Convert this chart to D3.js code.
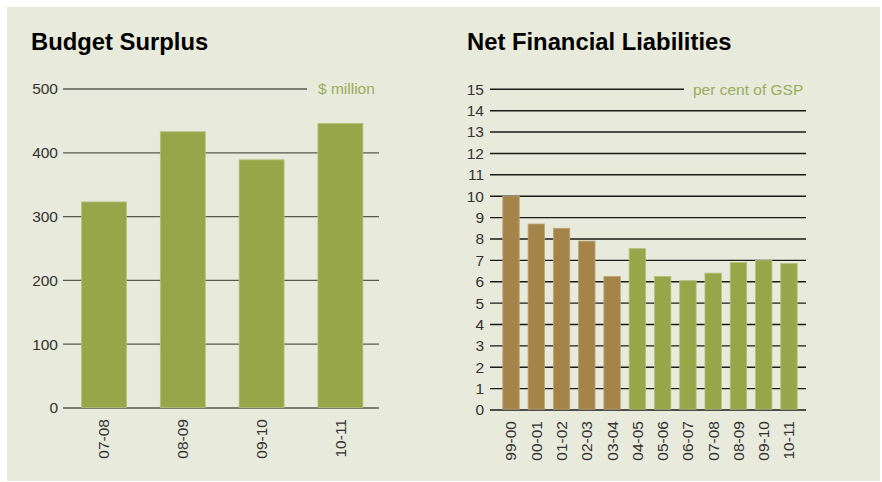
<!DOCTYPE html>
<html>
<head>
<meta charset="utf-8">
<script src="https://cdn.jsdelivr.net/npm/d3@7"></script>
<style>
  body { margin: 0; background: #fff; }
  svg { display: block; font-family: "Liberation Sans", Arial, sans-serif; }
</style>
</head>
<body>
<svg id="chart" width="882" height="482"></svg>
<script>
// ===== Data =====
const surplusYears = ["07-08", "08-09", "09-10", "10-11"];
const surplusValues = [323, 433, 389, 446];
const surplusTicks = [0, 100, 200, 300, 400, 500];

const nflYears = ["99-00", "00-01", "01-02", "02-03", "03-04", "04-05",
  "05-06", "06-07", "07-08", "08-09", "09-10", "10-11"];
const nflValues = [10.0, 8.7, 8.5, 7.9, 6.25, 7.55, 6.25, 6.05, 6.4, 6.9, 7.0, 6.85];
const nflTicks = d3.range(0, 16);
const nflHistoric = 5; // first five bars drawn in brown

const green = "#98a64a";
const brown = "#a5844a";
const unitColor = "#9aad5c";
const labelSize = "15.5px";
const titleSize = "23.8px";

const svg = d3.select("#chart");

// panel background
svg.append("rect")
  .attr("x", 7).attr("y", 7)
  .attr("width", 873).attr("height", 474)
  .attr("fill", "#e8eadb");

// ===== Budget Surplus =====
function drawSurplus() {
  const g = svg.append("g");
  const x0 = 63, x1 = 379;

  const y = d3.scaleLinear().domain([0, 500]).range([408, 89]);
  const x = d3.scaleBand()
    .domain(surplusYears)
    .range([64.6, 379.8])
    .paddingInner(0.43)
    .paddingOuter(0.215);

  g.append("text")
    .attr("x", 31).attr("y", 50)
    .text("Budget Surplus")
    .style("font-size", titleSize)
    .style("font-weight", "bold")
    .attr("fill", "#000");

  // grid
  g.selectAll("line.grid")
    .data(surplusTicks)
    .enter()
    .append("line")
    .attr("x1", x0)
    .attr("x2", d => d === 500 ? 307 : x1)
    .attr("y1", d => y(d))
    .attr("y2", d => y(d))
    .attr("stroke", "#585a50")
    .attr("stroke-width", 1.3);

  g.selectAll("text.ytick")
    .data(surplusTicks)
    .enter()
    .append("text")
    .attr("x", 58)
    .attr("y", d => y(d))
    .attr("dy", "0.35em")
    .attr("text-anchor", "end")
    .attr("fill", "#333")
    .style("font-size", labelSize)
    .text(d => d);

  g.append("text")
    .attr("x", 318).attr("y", y(500))
    .attr("dy", "0.35em")
    .attr("fill", unitColor)
    .style("font-size", labelSize)
    .text("$ million");

  g.selectAll("rect.bar")
    .data(surplusValues)
    .enter()
    .append("rect")
    .attr("x", (d, i) => x(surplusYears[i]))
    .attr("width", x.bandwidth())
    .attr("y", d => y(d))
    .attr("height", d => y(0) - y(d) - 0.6)
    .attr("fill", green)
    .attr("stroke", "#b4c07a")
    .attr("stroke-width", 0.8);

  g.selectAll("text.xtick")
    .data(surplusYears)
    .enter()
    .append("text")
    .attr("transform", d => `translate(${x(d) + x.bandwidth() / 2},419) rotate(-90)`)
    .attr("dy", "0.35em")
    .attr("text-anchor", "end")
    .attr("fill", "#333")
    .style("font-size", labelSize)
    .text(d => d);
}

// ===== Net Financial Liabilities =====
function drawNFL() {
  const g = svg.append("g");
  const x0 = 490, x1 = 806;

  const y = d3.scaleLinear().domain([0, 15]).range([410, 89.3]);
  const x = d3.scaleBand()
    .domain(nflYears)
    .range([498.4, 801.6])
    .paddingInner(0.35)
    .paddingOuter(0.175);

  g.append("text")
    .attr("x", 467).attr("y", 50)
    .text("Net Financial Liabilities")
    .style("font-size", titleSize)
    .style("font-weight", "bold")
    .attr("fill", "#000");

  g.selectAll("line.grid")
    .data(nflTicks)
    .enter()
    .append("line")
    .attr("x1", x0)
    .attr("x2", d => d === 15 ? 684 : x1)
    .attr("y1", d => y(d))
    .attr("y2", d => y(d))
    .attr("stroke", "#1a1a16")
    .attr("stroke-width", 1.4);

  g.selectAll("text.ytick")
    .data(nflTicks)
    .enter()
    .append("text")
    .attr("x", 484)
    .attr("y", d => y(d))
    .attr("dy", "0.35em")
    .attr("text-anchor", "end")
    .attr("fill", "#333")
    .style("font-size", labelSize)
    .text(d => d);

  g.append("text")
    .attr("x", 693).attr("y", y(15))
    .attr("dy", "0.35em")
    .attr("fill", unitColor)
    .style("font-size", labelSize)
    .text("per cent of GSP");

  g.selectAll("rect.bar")
    .data(nflValues)
    .enter()
    .append("rect")
    .attr("x", (d, i) => x(nflYears[i]))
    .attr("width", x.bandwidth())
    .attr("y", d => y(d))
    .attr("height", d => y(0) - y(d) - 0.8)
    .attr("fill", (d, i) => i < nflHistoric ? brown : green)
    .attr("stroke", (d, i) => i < nflHistoric ? "#bfa57a" : "#b4c07a")
    .attr("stroke-width", 0.8);

  g.selectAll("text.xtick")
    .data(nflYears)
    .enter()
    .append("text")
    .attr("transform", d => `translate(${x(d) + x.bandwidth() / 2},421) rotate(-90)`)
    .attr("dy", "0.35em")
    .attr("text-anchor", "end")
    .attr("fill", "#333")
    .style("font-size", labelSize)
    .text(d => d);
}

drawSurplus();
drawNFL();
</script>
</body>
</html>
